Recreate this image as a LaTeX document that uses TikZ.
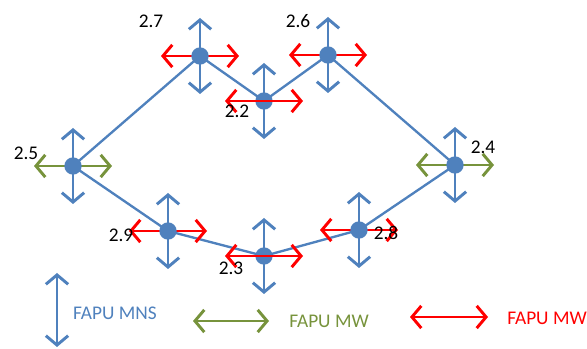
\documentclass[tikz,border=0pt]{standalone}
\usepackage{fontspec}
\setmainfont{Carlito}
\usetikzlibrary{arrows.meta}
\definecolor{mnsblue}{HTML}{4F81BD}
\definecolor{mwgreen}{HTML}{77933C}
\definecolor{mwred}{HTML}{FF0000}
\begin{document}
\begin{tikzpicture}[x=0.03cm,y=-0.03cm,
  site/.style={circle,fill=mnsblue,inner sep=0pt,minimum size=5.2mm},
  link/.style={mnsblue,line width=2pt},
  dbl/.style={line width=2.5pt,{Straight Barb[length=8pt,width=19pt]}-{Straight Barb[length=8pt,width=19pt]}},
  mns/.style={dbl,mnsblue},
  mwg/.style={dbl,mwgreen},
  mwr/.style={dbl,mwred},
  lbl/.style={inner sep=0pt,font=\fontsize{16.5}{18}\selectfont}]
\useasboundingbox (0,0) rectangle (587,349);
% positions of the sites
\coordinate (p27) at (200,56);
\coordinate (p26) at (328,55);
\coordinate (p22) at (264,101);
\coordinate (p25) at (73,166);
\coordinate (p24) at (455,165);
\coordinate (p29) at (168,231);
\coordinate (p23) at (264,256);
\coordinate (p28) at (359,230);
\draw[link] (p25)--(p27)--(p22)--(p26)--(p24)--(p28)--(p23)--(p29)--cycle;
% arrows on each site
\foreach \p in {27,26,22,25,24,29,23,28}
  \draw[mns] (p\p) +(0,-38) -- +(0,38);
\foreach \p in {25,24}
  \draw[mwg] (p\p) +(-39,0) -- +(39,0);
\foreach \p in {27,26,29,28}
  \draw[mwr] (p\p) +(-39,0) -- +(39,0);
\foreach \p in {27,26,25,24,29,28}
  \node[site] (s\p) at (p\p) {};
\node[site] (s22) at (p22) {};
\node[site] (s23) at (p23) {};
\foreach \p in {22,23}
  \draw[mwr] (p\p) +(-39,0) -- +(39,0);
% labels
\node[lbl] (l27) at (151,21) {2.7};
\node[lbl] (l26) at (298,21) {2.6};
\node[lbl] (l22) at (237,111) {2.2};
\node[lbl] (l25) at (26,153) {2.5};
\node[lbl] (l24) at (483,147) {2.4};
\node[lbl] (l29) at (121,235) {2.9};
\node[lbl] (l23) at (231,268) {2.3};
\node[lbl] (l28) at (386,233) {2.8};
% legend
\coordinate (k1) at (57,310);
\coordinate (k2) at (231,321);
\coordinate (k3) at (449,317);
\draw[mns] (k1) +(0,-37) -- +(0,37);
\draw[mwg] (k2) +(-38,0) -- +(38,0);
\draw[mwr] (k3) +(-39,0) -- +(39,0);
\node[lbl,text=mnsblue] (t1) at (115,313) {FAPU MNS};
\node[lbl,text=mwgreen] (t2) at (329,321) {FAPU MW};
\node[lbl,text=mwred] (t3) at (547,318) {FAPU MW};
\end{tikzpicture}
\end{document}
